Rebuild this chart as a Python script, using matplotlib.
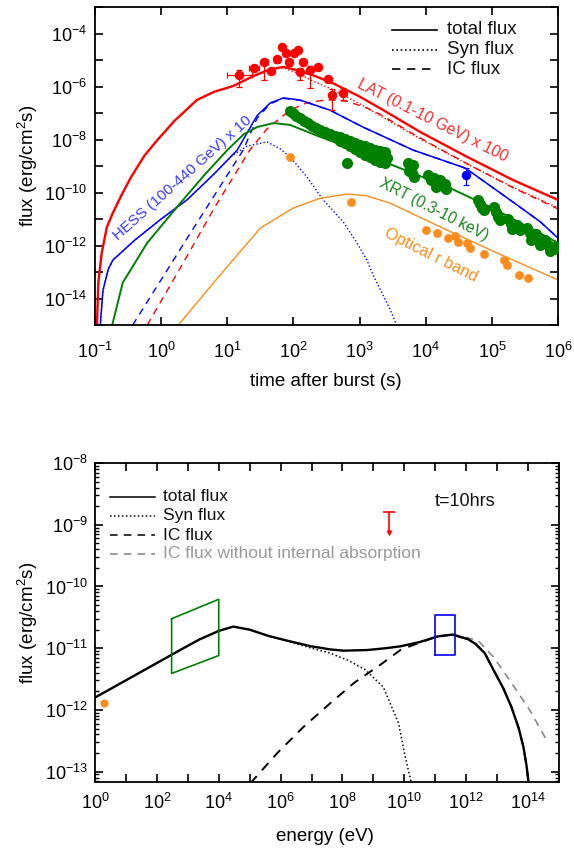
import numpy as np
import matplotlib
matplotlib.use('Agg')
import matplotlib.pyplot as plt
from matplotlib.ticker import FixedLocator, NullLocator, FixedFormatter, LogLocator

plt.rcParams['font.family'] = ['Liberation Sans', 'DejaVu Sans']
plt.rcParams['mathtext.fontset'] = 'custom'
plt.rcParams['mathtext.rm'] = 'Liberation Sans'
plt.rcParams['mathtext.it'] = 'Liberation Sans:italic'
plt.rcParams['mathtext.bf'] = 'Liberation Sans:bold'
plt.rcParams['axes.unicode_minus'] = False

# ---------------- top panel: light curves (log10 values) ----------------
lat_tot_logt = [-0.97, -0.95, -0.90, -0.82, -0.73, -0.60, -0.45, -0.25, -0.05, 0.20, 0.54, 0.80, 1.09, 1.40, 1.65, 1.85, 2.05, 2.30, 2.60, 3.00, 3.31, 3.92, 4.63, 5.32, 6.00]
lat_tot_logf = [-15.0, -13.4, -12.3, -11.3, -10.77, -10.1, -9.4, -8.6, -8.0, -7.3, -6.51, -6.2, -5.98, -5.6, -5.35, -5.26, -5.38, -5.58, -5.88, -6.38, -6.82, -7.72, -8.66, -9.53, -10.28]
lat_syn_logt = [-0.97, -0.95, -0.90, -0.82, -0.73, -0.60, -0.45, -0.25, -0.05, 0.20, 0.54, 0.80, 1.09, 1.40, 1.65, 1.85, 2.05, 2.30, 2.60, 3.00, 3.31, 3.92, 4.63, 5.32, 6.00]
lat_syn_logf = [-15.0, -13.4, -12.3, -11.3, -10.77, -10.1, -9.4, -8.6, -8.0, -7.3, -6.51, -6.2, -5.98, -5.6, -5.36, -5.30, -5.48, -5.80, -6.12, -6.65, -7.10, -7.98, -8.93, -9.80, -10.58]
lat_ic_logt = [-0.21, 0.30, 0.80, 1.34, 1.60, 1.95, 2.20, 2.50, 2.80, 3.10, 3.31, 3.92, 4.63, 5.32, 6.00]
lat_ic_logf = [-15.0, -12.8, -10.6, -8.4, -7.6, -6.89, -6.62, -6.50, -6.55, -6.80, -7.05, -7.95, -8.92, -9.82, -10.62]

hess_tot_logt = [-0.92, -0.88, -0.80, -0.73, -0.40, 0.00, 0.39, 0.80, 1.15, 1.45, 1.65, 1.85, 2.10, 2.55, 3.05, 3.81, 4.60, 5.23, 5.73, 6.00]
hess_tot_logf = [-15.0, -13.7, -12.9, -12.55, -11.8, -11.0, -10.28, -9.3, -8.4, -7.1, -6.62, -6.43, -6.51, -6.89, -7.53, -8.40, -9.08, -10.2, -11.1, -11.72]
hess_syn_logt = [-0.92, -0.88, -0.80, -0.73, -0.40, 0.00, 0.39, 0.80, 1.08, 1.30, 1.60, 1.80, 1.95, 2.20, 2.45, 2.75, 2.96, 3.11, 3.22, 3.46, 3.56]
hess_syn_logf = [-15.0, -13.7, -12.9, -12.55, -11.8, -11.0, -10.28, -9.3, -8.6, -8.25, -8.09, -8.35, -8.66, -9.4, -10.28, -11.1, -11.9, -12.55, -13.2, -14.4, -15.0]
hess_ic_logt = [-0.43, 0.40, 1.24, 1.45, 1.65, 1.85, 2.10, 2.55, 3.05, 3.81, 4.60, 5.23, 5.73, 6.00]
hess_ic_logf = [-15.0, -11.7, -8.4, -7.2, -6.65, -6.45, -6.52, -6.89, -7.53, -8.40, -9.08, -10.2, -11.1, -11.72]

xrt_tot_logt = [-0.74, -0.58, -0.21, 0.29, 0.65, 1.00, 1.25, 1.45, 1.70, 1.95, 2.30, 2.81, 3.42, 4.33, 4.98, 5.50, 6.00]
xrt_tot_logf = [-15.0, -13.4, -11.9, -10.4, -9.35, -8.4, -7.8, -7.53, -7.38, -7.45, -7.8, -8.28, -8.89, -9.79, -10.55, -11.24, -11.9]

opt_tot_logt = [0.26, 0.80, 1.50, 2.00, 2.40, 2.81, 3.10, 3.46, 4.22, 4.98, 5.50, 6.00]
opt_tot_logf = [-15.0, -13.38, -11.34, -10.58, -10.22, -10.06, -10.12, -10.40, -11.3, -12.17, -12.75, -13.3]

# LAT data (x100)
lat_t = [15, 25, 36, 46, 56, 68, 78, 85, 102, 117, 126, 141, 178, 234, 337, 388, 563]
lat_f = [2.7e-6, 5.0e-6, 8.3e-6, 3.8e-6, 1.07e-5, 3.1e-5, 1.8e-5, 8.5e-6, 1.8e-5, 2.4e-5, 3.5e-6, 8.5e-6, 4.2e-6, 5.5e-6, 1.9e-6, 4.8e-7, 5.6e-7]
lat_tlo = [10, 21, 32, 41, 51, 64, 73, 80, 96, 110, 120, 133, 165, 215, 300, 360, 500]
lat_thi = [24, 30, 41, 51, 62, 72, 83, 90, 108, 124, 133, 150, 190, 255, 370, 420, 630]
lat_flo = [1.0e-6, 3.8e-6, 1.8e-6, 3.0e-6, 8e-6, 2.6e-5, 1.5e-5, 6e-6, 1.5e-5, 2.0e-5, 1.8e-6, 6.5e-6, 8.7e-7, 4.3e-6, 1.5e-6, 1.3e-7, 3.2e-7]
lat_fhi = [4.2e-6, 6.2e-6, 1.1e-5, 4.6e-6, 1.3e-5, 3.6e-5, 2.2e-5, 1.1e-5, 2.2e-5, 2.9e-5, 5e-6, 1.1e-5, 6e-6, 7e-6, 2.5e-6, 8e-7, 9e-7]

# HESS data (x10)
hess_t = [4.0e4]
hess_f = [4.6e-10]
hess_flo = [1.9e-10]
hess_fhi = [8.5e-10]

# XRT data (log10)
xrt_logt = [1.950, 1.995, 2.041, 2.101, 2.162, 2.222, 2.283, 2.343, 2.404, 2.480, 2.555, 2.631, 2.707, 2.782, 2.858, 2.933, 3.009, 3.085, 3.160, 3.236, 3.312, 3.387,
            2.707, 2.782, 2.858, 2.933, 3.009, 3.085, 3.160, 3.236, 3.312, 3.387, 3.418,
            2.812,
            3.735, 3.766, 3.796, 3.826, 3.750, 3.811,
            4.038, 4.083, 4.129, 4.174, 4.219, 4.265, 4.310, 4.159, 4.295,
            4.794, 4.825, 4.855, 4.885,
            5.036, 5.067, 5.097, 5.127,
            5.248, 5.293, 5.339, 5.384, 5.430, 5.309,
            5.536, 5.581, 5.626, 5.672, 5.717, 5.762, 5.808, 5.853, 5.899, 5.944, 5.974, 5.596, 5.732, 5.884]
xrt_logf = [-6.925, -7.0, -7.113, -7.189, -7.302, -7.377, -7.491, -7.566, -7.642, -7.717, -7.792, -7.868, -7.906, -7.981, -8.057, -8.132, -8.208, -8.245, -8.321, -8.396, -8.434, -8.472,
            -8.057, -8.132, -8.245, -8.358, -8.472, -8.585, -8.66, -8.774, -8.849, -8.887, -8.698,
            -8.887,
            -8.887, -9.075, -9.264, -9.415, -9.189, -8.962,
            -9.340, -9.528, -9.453, -9.642, -9.528, -9.755, -9.868, -9.792, -9.679,
            -10.283, -10.434, -10.585, -10.660,
            -10.547, -10.736, -10.925, -11.038,
            -11.0, -11.189, -11.302, -11.226, -11.415, -11.377,
            -11.340, -11.528, -11.642, -11.566, -11.755, -11.868, -11.792, -11.981, -12.057, -12.132, -12.019, -11.792, -11.981, -12.208]

# Optical data (log10)
opt_logt = [1.95, 2.87, 4.01, 4.17, 4.34, 4.45, 4.49, 4.63, 4.67, 4.88, 5.19, 5.23, 5.41, 5.55]
opt_logf = [-8.66, -10.36, -11.42, -11.53, -11.72, -11.64, -11.87, -11.90, -12.09, -12.32, -12.55, -12.74, -13.11, -13.23]

# ---------------- bottom panel: SED at t=10 hrs (log10 values) ----------------
tot_logE = [0, 1, 2, 2.75, 3.37, 4.0, 4.47, 5.0, 5.6, 6.31, 7.0, 7.61, 8.03, 8.8, 9.4, 9.87, 10.5, 11.07, 11.55, 12.04, 12.3, 12.6, 12.88, 13.2, 13.46, 13.7, 13.85, 13.95, 14.02]
tot_logF = [-11.8, -11.52, -11.24, -11.03, -10.86, -10.72, -10.65, -10.7, -10.8, -10.89, -10.97, -11.02, -11.04, -11.03, -11.0, -10.97, -10.9, -10.81, -10.78, -10.85, -10.93, -11.08, -11.35, -11.65, -11.95, -12.3, -12.6, -12.9, -13.2]
syn_logE = [0, 1, 2, 2.75, 3.37, 4.0, 4.47, 5.0, 5.6, 6.31, 7.0, 7.54, 8.2, 8.74, 9.32, 9.81, 10.03, 10.23]
syn_logF = [-11.8, -11.52, -11.24, -11.03, -10.86, -10.72, -10.65, -10.7, -10.8, -10.9, -11.0, -11.07, -11.2, -11.35, -11.63, -12.21, -12.76, -13.19]
ic_logE = [5.02, 5.89, 6.73, 7.54, 8.38, 9.22, 9.90, 10.5, 11.07, 11.55, 12.04, 12.3, 12.6, 12.88, 13.2, 13.46, 13.7, 13.85, 13.95, 14.02]
ic_logF = [-13.19, -12.70, -12.28, -11.92, -11.56, -11.27, -11.02, -10.91, -10.81, -10.78, -10.85, -10.93, -11.08, -11.35, -11.65, -11.95, -12.3, -12.6, -12.9, -13.2]
noabs_logE = [11.55, 12.04, 12.39, 12.88, 13.46, 14.05, 14.6]
noabs_logF = [-10.77, -10.83, -10.88, -11.14, -11.56, -12.0, -12.49]

sed_opt_E = [2.0]
sed_opt_F = [1.3e-12]
xrt_box_E = [3e2, 1e4, 1e4, 3e2, 3e2]
xrt_box_F = [3.0e-11, 6.2e-11, 7.6e-12, 3.9e-12, 3.0e-11]
hess_box_E = [1e11, 4.4e11, 4.4e11, 1e11, 1e11]
hess_box_F = [7.9e-12, 7.9e-12, 3.4e-11, 3.4e-11, 7.9e-12]
lat_ul_E = 3.2e9
lat_ul_F = 1.6e-9
lat_ul_tip = 7.3e-10

top_xticks = [-1, 0, 1, 2, 3, 4, 5, 6]
top_yticks_labeled = [-14, -12, -10, -8, -6, -4]
bot_xticks_labeled = [0, 2, 4, 6, 8, 10, 12, 14]
bot_yticks = [-13, -12, -11, -10, -9, -8]

RED = '#ff0000'
BLUE = '#0000ff'
GREEN = '#008000'
ORANGE = '#ff8c1a'

def p(a):
    return 10.0 ** np.asarray(a, dtype=float)

fig = plt.figure(figsize=(5.74, 8.52), dpi=100)
ax1 = fig.add_axes([95 / 574, 1 - 325 / 852, 463 / 574, 318 / 852])
ax2 = fig.add_axes([95 / 574, 1 - 782 / 852, 464 / 574, 319 / 852])

DOT = (0, (1, 1.6))
DASH = (0, (5, 4))

# ---- top panel ----
ax1.plot(p(lat_syn_logt), p(lat_syn_logf), color=RED, lw=1.0, ls=DOT)
ax1.plot(p(lat_ic_logt), p(lat_ic_logf), color=RED, lw=1.0, ls=DASH)
ax1.plot(p(lat_tot_logt), p(lat_tot_logf), color=RED, lw=1.7)
ax1.plot(p(hess_syn_logt), p(hess_syn_logf), color=BLUE, lw=1.0, ls=DOT)
ax1.plot(p(hess_ic_logt), p(hess_ic_logf), color=BLUE, lw=1.0, ls=DASH)
ax1.plot(p(hess_tot_logt), p(hess_tot_logf), color=BLUE, lw=1.1)
ax1.plot(p(xrt_tot_logt), p(xrt_tot_logf), color=GREEN, lw=1.4)
ax1.plot(p(opt_tot_logt), p(opt_tot_logf), color=ORANGE, lw=1.0)

lt = np.array(lat_t, float); lf = np.array(lat_f, float)
ax1.errorbar(lt, lf, xerr=[lt - np.array(lat_tlo), np.array(lat_thi) - lt],
             yerr=[lf - np.array(lat_flo), np.array(lat_fhi) - lf],
             fmt='o', color=RED, ms=5.8, elinewidth=0.9, capsize=2.2, capthick=0.9, zorder=5)
ht = np.array(hess_t); hf = np.array(hess_f)
ax1.errorbar(ht, hf, yerr=[hf - np.array(hess_flo), np.array(hess_fhi) - hf],
             fmt='o', color=BLUE, ms=5.8, elinewidth=0.9, capsize=2.5, capthick=0.9, zorder=5)
ax1.plot(p(xrt_logt), p(xrt_logf), 'o', color=GREEN, ms=8, mec='none', zorder=4)
ax1.plot(p(opt_logt), p(opt_logf), 'o', color=ORANGE, ms=6.3, mec='none', zorder=4)

ax1.text(p(0.32), p(-9.45), 'HESS (100-440 GeV) x 10', color='#3a3aff', fontsize=11,
         rotation=41.6, rotation_mode='anchor', ha='center', va='center')
ax1.text(p(4.11), p(-7.30), 'LAT (0.1-10 GeV) x 100', color='#ff2a2a', fontsize=11.3,
         rotation=-26.7, rotation_mode='anchor', ha='center', va='center')
ax1.text(p(4.13), p(-10.66), 'XRT (0.3-10 keV)', color='#1a861a', fontsize=11.2,
         rotation=-27, rotation_mode='anchor', ha='center', va='center')
ax1.text(p(4.08), p(-12.36), 'Optical r band', color=ORANGE, fontsize=11.8,
         rotation=-26.6, rotation_mode='anchor', ha='center', va='center')

for yy, ls, lab in [(0.928, '-', 'total flux'), (0.865, DOT, 'Syn flux'), (0.805, DASH, 'IC flux')]:
    ax1.plot([0.641, 0.739], [yy, yy], transform=ax1.transAxes, color='k', lw=1.2, ls=ls)
    ax1.text(0.760, yy, lab, transform=ax1.transAxes, fontsize=13.5, va='center', ha='left', color='#111111')

ax1.set_xscale('log'); ax1.set_yscale('log')
ax1.set_xlim(1e-1, 1e6); ax1.set_ylim(1e-15, 1e-3)
ax1.xaxis.set_major_locator(FixedLocator(p(top_xticks)))
ax1.xaxis.set_major_formatter(FixedFormatter([r'$10^{%d}$' % k for k in top_xticks]))
ax1.xaxis.set_minor_locator(NullLocator())
yt = list(range(-15, -2))
ax1.yaxis.set_major_locator(FixedLocator(p(yt)))
ax1.yaxis.set_major_formatter(FixedFormatter([(r'$10^{%d}$' % k) if k in top_yticks_labeled else '' for k in yt]))
ax1.yaxis.set_minor_locator(NullLocator())
ax1.tick_params(which='both', direction='in', top=True, right=True, length=6, width=1.2, labelsize=13)
ax1.tick_params(axis='x', pad=12)
ax1.tick_params(axis='y', pad=6)
ax1.set_xlabel('time after burst (s)', fontsize=13.5)
ax1.set_ylabel(r'flux (erg/cm$^2$s)', fontsize=13.5)
ax1.xaxis.set_label_coords(0.499, -0.150)
ax1.yaxis.set_label_coords(-0.119, 0.5)

# ---- bottom panel ----
ax2.plot(p(syn_logE), p(syn_logF), color='k', lw=1.1, ls=DOT)
ax2.plot(p(ic_logE), p(ic_logF), color='k', lw=1.4, ls=DASH)
ax2.plot(p(noabs_logE), p(noabs_logF), color='#808080', lw=1.1, ls=DASH)
ax2.plot(p(tot_logE), p(tot_logF), color='k', lw=1.7)
ax2.plot(xrt_box_E, xrt_box_F, color=GREEN, lw=1.2)
ax2.plot(hess_box_E, hess_box_F, color=BLUE, lw=1.2)
ax2.plot(sed_opt_E, sed_opt_F, 'o', color=ORANGE, ms=5.8, mec='none')
ax2.plot([lat_ul_E, lat_ul_E], [lat_ul_F, lat_ul_tip * 1.1], color=RED, lw=1.2)
ax2.plot([lat_ul_E], [lat_ul_F], marker='_', color=RED, ms=9, mew=1.2)
ax2.plot([lat_ul_E], [lat_ul_tip], marker='v', color=RED, ms=4.5, mec='none')

ax2.text(0.733, 0.878, 't=10hrs', transform=ax2.transAxes, fontsize=13, va='center', ha='left', color='#111111')
for yy, ls, col, lab in [(0.894, '-', 'k', 'total flux'), (0.835, DOT, 'k', 'Syn flux'),
                         (0.774, DASH, 'k', 'IC flux'), (0.715, DASH, '#808080', 'IC flux without internal absorption')]:
    ax2.plot([0.032, 0.129], [yy, yy], transform=ax2.transAxes, color=col, lw=1.1, ls=ls)
    ax2.text(0.147, yy, lab, transform=ax2.transAxes, fontsize=12.5, va='center', ha='left',
             color='#111111' if col == 'k' else '#999999')

ax2.set_xscale('log'); ax2.set_yscale('log')
ax2.set_xlim(1, 1e15); ax2.set_ylim(6.8e-14, 1e-8)
xt = list(range(0, 16))
ax2.xaxis.set_major_locator(FixedLocator(p(xt)))
ax2.xaxis.set_major_formatter(FixedFormatter([(r'$10^{%d}$' % k) if k in bot_xticks_labeled else '' for k in xt]))
ax2.xaxis.set_minor_locator(NullLocator())
ax2.yaxis.set_major_locator(FixedLocator(p(bot_yticks)))
ax2.yaxis.set_major_formatter(FixedFormatter([r'$10^{%d}$' % k for k in bot_yticks]))
ax2.yaxis.set_minor_locator(LogLocator(base=10, subs=np.arange(2, 10), numticks=30))
ax2.tick_params(which='both', direction='in', top=True, right=True, width=1.2, labelsize=13)
ax2.tick_params(which='major', length=6)
ax2.tick_params(which='minor', length=3, width=1.0)
ax2.tick_params(axis='x', pad=8)
ax2.tick_params(axis='y', pad=5)
ax2.set_xlabel('energy (eV)', fontsize=13.5)
ax2.set_ylabel(r'flux (erg/cm$^2$s)', fontsize=13.5)
ax2.xaxis.set_label_coords(0.496, -0.144)
ax2.yaxis.set_label_coords(-0.119, 0.5)

for ax in (ax1, ax2):
    for s in ax.spines.values():
        s.set_linewidth(1.3)

fig.savefig('out.png', dpi=100)
